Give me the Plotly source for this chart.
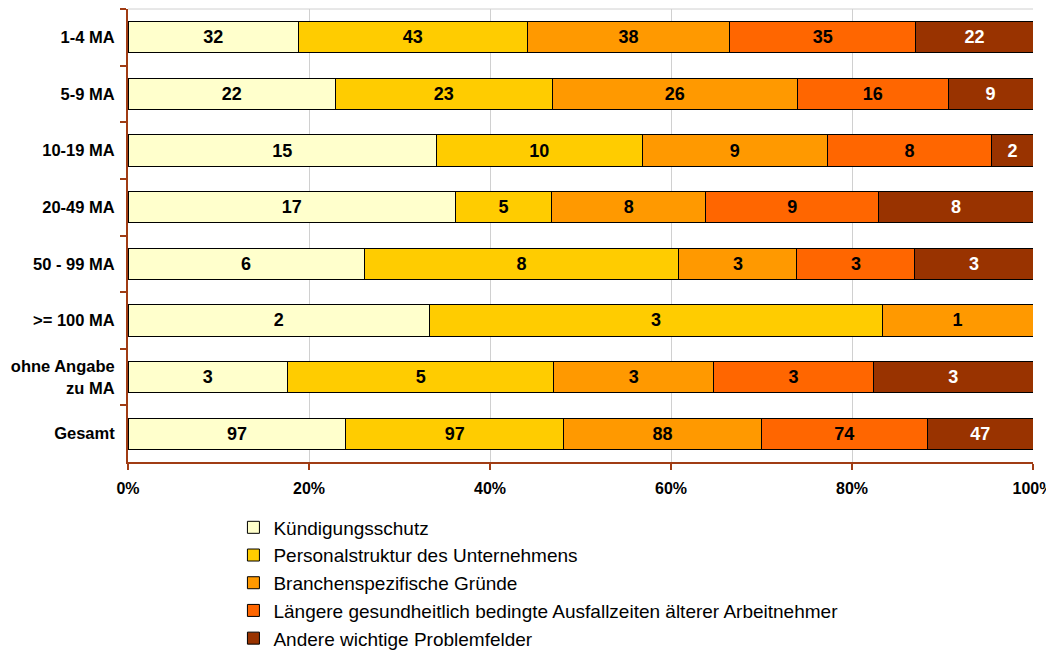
import plotly.graph_objects as go

categories = ["1-4 MA", "5-9 MA", "10-19 MA", "20-49 MA", "50 - 99 MA", ">= 100 MA", "ohne Angabe<br>zu MA", "Gesamt"]
series_names = [
    "Kündigungsschutz",
    "Personalstruktur des Unternehmens",
    "Branchenspezifische Gründe",
    "Längere gesundheitlich bedingte Ausfallzeiten älterer Arbeitnehmer",
    "Andere wichtige Problemfelder",
]
kuendigungsschutz = [32, 22, 15, 17, 6, 2, 3, 97]
personalstruktur = [43, 23, 10, 5, 8, 3, 5, 97]
branchen = [38, 26, 9, 8, 3, 1, 3, 88]
ausfallzeiten = [35, 16, 8, 9, 3, 0, 3, 74]
andere = [22, 9, 2, 8, 3, 0, 3, 47]
x_ticks = [0, 20, 40, 60, 80, 100]

series_values = [kuendigungsschutz, personalstruktur, branchen, ausfallzeiten, andere]
colors = ["#FFFFCC", "#FFCC00", "#FF9900", "#FF6600", "#993300"]
text_colors = ["black", "black", "black", "black", "white"]

AX = "#A03C14"
FONT = "Liberation Sans, Arial, sans-serif"

fig = go.Figure()
for name, vals, col, tcol in zip(series_names, series_values, colors, text_colors):
    fig.add_trace(go.Bar(
        y=categories, x=vals, name=name, orientation="h",
        marker=dict(color=col, line=dict(color="black", width=1)),
        text=[str(v) if v else "" for v in vals],
        textposition="inside", insidetextanchor="middle", textangle=0,
        textfont=dict(family=FONT, size=18, color=tcol, weight="bold"),
        hoverinfo="skip",
    ))

# page body adds an 8px offset, margins compensate for it
fig.update_layout(
    barmode="stack", barnorm="percent", bargap=0.45,
    width=1054, height=656,
    margin=dict(l=120, r=29, t=1, b=202),
    plot_bgcolor="white", paper_bgcolor="white",
    font=dict(family=FONT, color="black"),
    showlegend=True,
    legend=dict(
        orientation="v", traceorder="normal",
        x=0.1165, y=-0.1026, xanchor="left", yanchor="top",
        font=dict(family=FONT, size=19, color="black"),
        tracegroupgap=0, bgcolor="rgba(0,0,0,0)",
    ),
)
fig.update_xaxes(
    range=[0, 100], tickvals=x_ticks, ticktext=[f"{t}%" for t in x_ticks],
    showgrid=True, gridcolor="#D0D0D0", gridwidth=1,
    showline=True, linecolor=AX, linewidth=2,
    ticks="outside", ticklen=6, tickcolor=AX, tickwidth=2,
    tickfont=dict(family=FONT, size=16, color="black", weight="bold"),
    ticklabelstandoff=5,
    zeroline=False, automargin=False,
)
fig.update_yaxes(
    autorange="reversed", type="category",
    showline=True, linecolor=AX, linewidth=2,
    ticks="outside", tickson="boundaries", ticklen=6, tickcolor=AX, tickwidth=2,
    tickfont=dict(family=FONT, size=16.5, color="black", weight="bold"),
    ticklabelstandoff=8,
    showgrid=False, automargin=False,
)
# light frame at the top of the plot area
fig.add_shape(type="line", xref="paper", yref="paper", x0=0, x1=1, y0=1, y1=1,
              line=dict(color="#D0D0D0", width=1), layer="below")

fig.write_html("out.html")
